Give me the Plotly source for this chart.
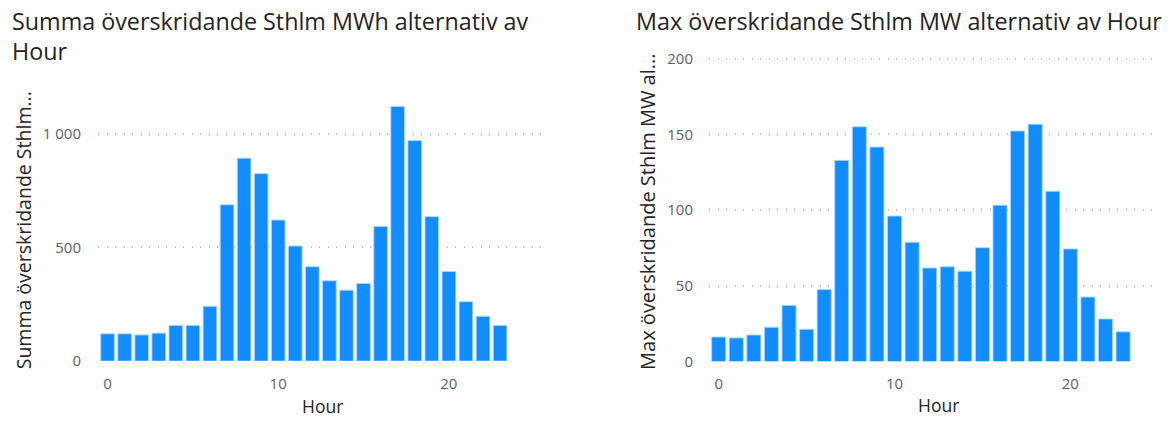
import plotly.graph_objects as go

hours = list(range(24))
sum_mwh = [120, 120, 115, 123, 157, 157, 241, 687, 892, 824, 620, 506,
           415, 353, 312, 341, 592, 1119, 970, 635, 394, 261, 197, 157]
max_mw = [16.2, 15.6, 17.5, 22.6, 37.1, 21.3, 47.5, 132.9, 155.1, 141.7, 96.1, 78.8,
          61.8, 62.6, 59.7, 75.2, 103.3, 152.3, 156.8, 112.5, 74.4, 42.6, 28.1, 19.6]

left_yticks = [0, 500, 1000]
left_yticklabels = ["0", "500", "1 000"]
right_yticks = [0, 50, 100, 150, 200]
x_ticks = [0, 10, 20]

W, H = 1175, 423
BAR = "#118DFF"
TICK = "#605E5C"
TXT = "#252423"
GRID = "#C8C6C4"

def px(x):
    return x / W

def py(y):
    return 1 - y / H

edge = dict(color="rgba(170,215,255,0.9)", width=1)
fig = go.Figure()
fig.add_trace(go.Bar(x=hours, y=sum_mwh, marker=dict(color=BAR, line=edge),
                     width=0.8, xaxis="x", yaxis="y", showlegend=False))
fig.add_trace(go.Bar(x=hours, y=max_mw, marker=dict(color=BAR, line=edge),
                     width=0.8, xaxis="x2", yaxis="y2", showlegend=False))

font_ticks = dict(family="Open Sans, DejaVu Sans, sans-serif", size=15, color=TICK)
grid = dict(showgrid=True, gridcolor=GRID, griddash="1px,7.5px", gridwidth=1.5, zeroline=False, showline=False)

fig.update_layout(
    width=W, height=H,
    margin=dict(l=0, r=0, t=0, b=0),
    paper_bgcolor="white", plot_bgcolor="white",
    xaxis=dict(domain=[px(98), px(541)], range=[-0.56, 25.4], tickvals=x_ticks,
               showgrid=False, zeroline=False, showline=False, tickfont=font_ticks,
               ticks="outside", ticklen=9, tickcolor="rgba(0,0,0,0)"),
    yaxis=dict(domain=[py(368.3), py(95)], range=[0, 1161.5], tickvals=left_yticks, ticktext=left_yticklabels,
               tickfont=font_ticks, ticks="outside", ticklen=13, tickcolor="rgba(0,0,0,0)", **grid),
    xaxis2=dict(domain=[px(709), px(1160)], range=[-0.55, 25.1], tickvals=x_ticks,
                showgrid=False, zeroline=False, showline=False, tickfont=font_ticks, anchor="y2",
                ticks="outside", ticklen=9, tickcolor="rgba(0,0,0,0)"),
    yaxis2=dict(domain=[py(368.7), py(50)], range=[0, 203.6], tickvals=right_yticks, anchor="x2",
                tickfont=font_ticks, ticks="outside", ticklen=12, tickcolor="rgba(0,0,0,0)", **grid),
)

title_font = dict(family="Open Sans, DejaVu Sans, sans-serif", size=23.3, color=TXT)
ytitle_font_l = dict(family="Open Sans, DejaVu Sans, sans-serif", size=19.5, color=TXT)
ytitle_font_r = dict(family="Open Sans, DejaVu Sans, sans-serif", size=20, color=TXT)
xtitle_font = dict(family="Open Sans, DejaVu Sans, sans-serif", size=17.5, color=TXT)

anns = [
    dict(text="Summa överskridande Sthlm MWh alternativ av<br>Hour", x=px(11), y=py(-1), xanchor="left", yanchor="top",
         align="left", font=title_font),
    dict(text="Max överskridande Sthlm MW alternativ av Hour", x=px(635), y=py(-1), xanchor="left", yanchor="top",
         align="left", font=title_font),
    dict(text="Summa överskridande Sthlm...", x=px(23), y=py(233), textangle=-90, xanchor="center", yanchor="middle",
         font=ytitle_font_l),
    dict(text="Max överskridande Sthlm MW al...", x=px(648), y=py(214), textangle=-90, xanchor="center", yanchor="middle",
         font=ytitle_font_r),
    dict(text="Hour", x=px(322.5), y=py(415), xanchor="center", yanchor="middle", font=xtitle_font),
    dict(text="Hour", x=px(938.5), y=py(414), xanchor="center", yanchor="middle", font=xtitle_font),
]
for a in anns:
    a.update(xref="paper", yref="paper", showarrow=False, borderpad=0)
fig.update_layout(annotations=anns)

fig.write_html("out.html", config={"displayModeBar": False},
               post_script="document.body.style.margin='0';document.body.style.overflow='hidden';")
